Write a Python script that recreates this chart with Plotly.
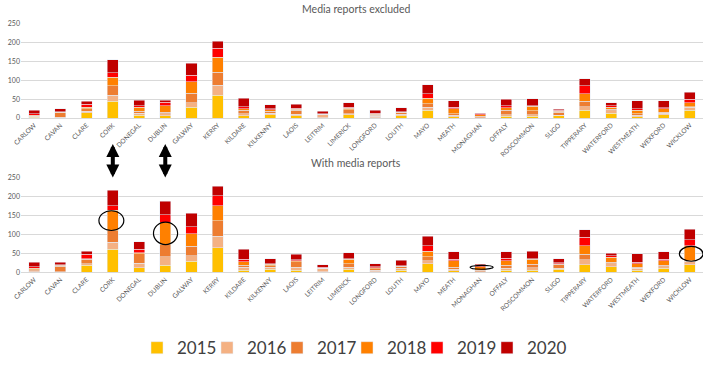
import plotly.graph_objects as go

counties = ["CARLOW", "CAVAN", "CLARE", "CORK", "DONEGAL", "DUBLIN", "GALWAY", "KERRY",
            "KILDARE", "KILKENNY", "LAOIS", "LEITRIM", "LIMERICK", "LONGFORD", "LOUTH",
            "MAYO", "MEATH", "MONAGHAN", "OFFALY", "ROSCOMMON", "SLIGO", "TIPPERARY",
            "WATERFORD", "WESTMEATH", "WEXFORD", "WICKLOW"]
years = ["2015", "2016", "2017", "2018", "2019", "2020"]
colors = ["#FFC000", "#F4B183", "#ED7D31", "#FF8000", "#FF0000", "#C00000"]

# Media reports excluded
excl_2015 = [2, 0, 14, 44, 7, 6, 28, 60, 6, 9, 6, 1, 9, 1, 6, 21, 4, 0, 5, 5, 6, 20, 13, 4, 9, 20]
excl_2016 = [1, 2, 4, 16, 6, 5, 13, 27, 6, 4, 4, 8, 3, 4, 4, 8, 3, 1, 4, 4, 2, 10, 6, 4, 4, 8]
excl_2017 = [2, 12, 7, 26, 5, 4, 25, 35, 8, 5, 11, 1, 10, 3, 4, 9, 5, 4, 11, 10, 7, 15, 4, 3, 3, 2]
excl_2018 = [2, 2, 3, 23, 10, 18, 30, 39, 5, 4, 2, 0, 4, 2, 2, 14, 13, 4, 7, 12, 3, 20, 6, 10, 8, 11]
excl_2019 = [4, 1, 9, 11, 4, 9, 18, 25, 5, 2, 3, 1, 2, 3, 1, 13, 3, 2, 5, 2, 2, 21, 4, 4, 3, 9]
excl_2020 = [9, 7, 7, 35, 15, 5, 32, 18, 22, 11, 11, 7, 12, 7, 10, 23, 18, 2, 18, 18, 3, 18, 7, 21, 19, 18]

# With media reports
with_2015 = [2, 0, 18, 60, 12, 19, 29, 64, 6, 8, 6, 1, 8, 1, 6, 23, 4, 0, 5, 5, 8, 20, 14, 6, 10, 20]
with_2016 = [2, 2, 4, 19, 12, 22, 14, 31, 7, 5, 7, 8, 5, 5, 4, 8, 4, 1, 5, 7, 3, 13, 8, 4, 5, 9]
with_2017 = [3, 14, 12, 30, 25, 32, 26, 40, 5, 4, 15, 2, 10, 3, 4, 10, 5, 5, 9, 9, 10, 15, 4, 3, 4, 2]
with_2018 = [3, 3, 1, 54, 3, 58, 32, 40, 10, 4, 2, 0, 11, 3, 2, 15, 18, 9, 12, 13, 2, 22, 13, 10, 12, 39]
with_2019 = [4, 1, 12, 12, 9, 21, 19, 26, 6, 2, 3, 2, 2, 2, 1, 14, 3, 3, 6, 2, 2, 22, 4, 4, 3, 15]
with_2020 = [12, 7, 9, 41, 19, 35, 35, 25, 27, 13, 15, 7, 15, 8, 15, 25, 20, 3, 17, 20, 10, 20, 7, 22, 20, 28]

excl = [excl_2015, excl_2016, excl_2017, excl_2018, excl_2019, excl_2020]
withm = [with_2015, with_2016, with_2017, with_2018, with_2019, with_2020]

y_ticks = [0, 50, 100, 150, 200, 250]

legend_ids = ["legend", "legend2", "legend3", "legend4", "legend5", "legend6"]

fig = go.Figure()
for yr, col, vals, lg in zip(years, colors, excl, legend_ids):
    fig.add_trace(go.Bar(x=counties, y=vals, name=yr, marker_color=col,
                         legendgroup=yr, legend=lg, xaxis="x", yaxis="y"))
for yr, col, vals in zip(years, colors, withm):
    fig.add_trace(go.Bar(x=counties, y=vals, name=yr, marker_color=col,
                         legendgroup=yr, showlegend=False, xaxis="x2", yaxis="y2"))

grey = "#595959"
grid = "#D9D9D9"
yaxis_common = dict(tickfont=dict(size=7, color=grey), gridcolor=grid, zeroline=False,
                    automargin=False, range=[0, 250], tickvals=y_ticks)
xaxis_common = dict(domain=[0, 1], tickangle=-45, showgrid=False, range=[-0.5, 25.5],
                    tickfont=dict(size=6.5, color=grey), showline=True, linecolor=grid,
                    ticks="", automargin=False)

fig.update_layout(
    width=708, height=368,
    margin=dict(l=21, r=5, t=0, b=0, autoexpand=False),
    paper_bgcolor="white", plot_bgcolor="white",
    barmode="stack", bargap=0.58,
    font=dict(family="Lato", color=grey),
    xaxis=dict(anchor="y", **xaxis_common),
    yaxis=dict(domain=[0.6793, 0.9348], anchor="x", **yaxis_common),
    xaxis2=dict(anchor="y2", **xaxis_common),
    yaxis2=dict(domain=[0.2601, 0.5182], anchor="x2", **yaxis_common),
)

plot_w = 708 - 21 - 5
for i, lg in enumerate(legend_ids):
    sym_left = 153 + 70 * i
    fig.update_layout({lg: dict(orientation="h", x=(sym_left - 16 - 21) / plot_w, xanchor="left",
                                y=0.054, yanchor="middle", bgcolor="rgba(0,0,0,0)",
                                font=dict(size=17, color="#404040"), itemwidth=30,
                                itemclick=False, itemdoubleclick=False)})

fig.add_annotation(text="Media reports excluded", x=0.491, y=0.975, xref="paper", yref="paper",
                   yanchor="middle", showarrow=False, font=dict(size=10.5, color=grey))
fig.add_annotation(text="With media reports", x=0.491, y=0.556, xref="paper", yref="paper",
                   yanchor="middle", showarrow=False, font=dict(size=10.5, color=grey))

# double-headed arrows between panels
for c in ["CORK", "DUBLIN"]:
    fig.add_annotation(text="", x=c, y=0.518, xref="x2", yref="paper",
                       ax=0, ay=-35, showarrow=True, arrowside="end+start",
                       arrowhead=2, startarrowhead=2, arrowsize=0.65, startarrowsize=0.65,
                       arrowwidth=4, arrowcolor="black")

# ellipses in lower panel
ellipses = [(2.47, 3.42, 110, 162), (4.55, 5.47, 73, 132), (16.62, 17.5, 8, 18), (24.6, 25.5, 29, 68)]
for x0, x1, y0, y1 in ellipses:
    fig.add_shape(type="circle", xref="x2", yref="y2", x0=x0, x1=x1, y0=y0, y1=y1,
                  line=dict(color="black", width=1.2))

fig.write_html("out.html", config={"displayModeBar": False},
               post_script="document.body.style.margin='0';")
